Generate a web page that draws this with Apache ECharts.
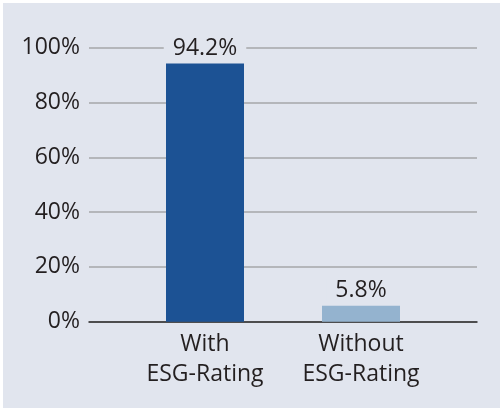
<!DOCTYPE html>
<html>
<head>
<meta charset="utf-8">
<script src="https://cdn.jsdelivr.net/npm/echarts@6/dist/echarts.min.js"></script>
<style>
  html, body { margin: 0; padding: 0; background: #ffffff; }
  #chart { position: absolute; left: 3px; top: 3px; width: 497px; height: 405px; }
</style>
</head>
<body>
<div id="chart"></div>
<script>
// Share of companies with / without an ESG rating
const categories = ['With\nESG-Rating', 'Without\nESG-Rating'];
const shares = [94.2, 5.8];
const barColors = ['#1c5294', '#94b3cf'];
const yTicks = { min: 0, max: 100, interval: 20 };

const bg = '#e1e5ee';
const textColor = '#231f20';
const fontFamily = '"Open Sans", "Noto Sans", sans-serif';
const fontSize = 23;

const chart = echarts.init(document.getElementById('chart'));
chart.setOption({
  backgroundColor: bg,
  animation: false,
  grid: [
    // frame: y scale, gridlines and baseline
    { left: 86, right: 23, top: 44.7, bottom: 86.3 },
    // bars and category labels
    { left: 124, right: 61, top: 44.7, bottom: 86.3 }
  ],
  xAxis: [
    {
      gridIndex: 0, type: 'category', data: [''],
      axisLine: { show: true, lineStyle: { color: '#2b2b2b', width: 1.5 } },
      axisTick: { show: false }, axisLabel: { show: false }, splitLine: { show: false }
    },
    {
      gridIndex: 1, type: 'category', data: categories,
      axisLine: { show: false }, axisTick: { show: false },
      axisLabel: {
        color: textColor, fontFamily, fontSize, lineHeight: 30, margin: 8
      }
    }
  ],
  yAxis: [
    {
      gridIndex: 0, type: 'value', min: yTicks.min, max: yTicks.max, interval: yTicks.interval,
      axisLine: { show: false }, axisTick: { show: false },
      axisLabel: { formatter: '{value}%', color: textColor, fontFamily, fontSize, margin: 9 },
      splitLine: { show: true, lineStyle: { color: '#a4a6a9', width: 1.5 } }
    },
    {
      gridIndex: 1, type: 'value', min: yTicks.min, max: yTicks.max, interval: yTicks.interval,
      show: false, splitLine: { show: false }
    }
  ],
  series: [
    {
      type: 'bar',
      xAxisIndex: 1, yAxisIndex: 1,
      barWidth: '50%',
      data: shares.map((v, i) => ({ value: v, itemStyle: { color: barColors[i] } })),
      label: {
        show: true, position: 'top', distance: 4,
        formatter: p => p.value.toFixed(1) + '%',
        color: textColor, fontFamily, fontSize,
        backgroundColor: bg, padding: [0, 9, 0, 9]
      }
    }
  ]
});
</script>
</body>
</html>
